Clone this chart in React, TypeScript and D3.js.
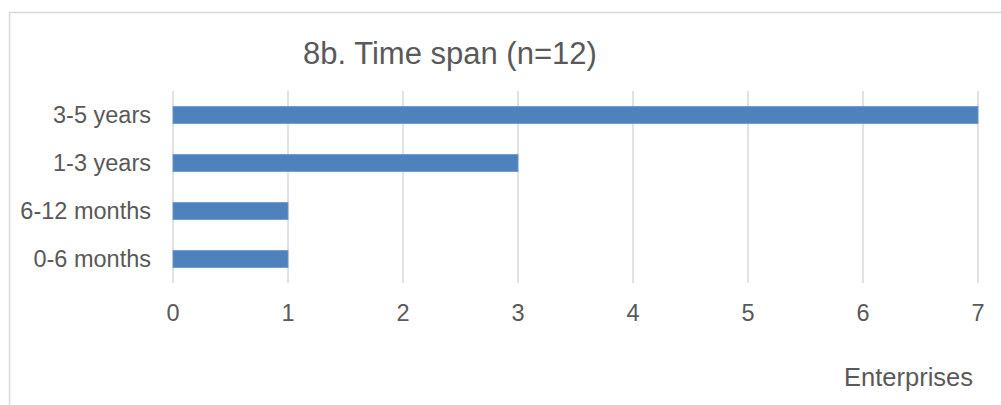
import React from "react";
import * as d3 from "d3";

// Time span of enterprises, horizontal bar chart
const categories = ["3-5 years", "1-3 years", "6-12 months", "0-6 months"];
const values = [7, 3, 1, 1];
const xTicks = [0, 1, 2, 3, 4, 5, 6, 7];
const title = "8b. Time span (n=12)";
const xAxisTitle = "Enterprises";

const W = 1001;
const H = 405;
const plot = { left: 173, right: 978, top: 91, bottom: 283 };
const textColor = "#595959";
const font = "Arial, 'Liberation Sans', sans-serif";

export default function App() {
  const x = d3.scaleLinear().domain([0, 7]).range([plot.left, plot.right]);
  const y = d3
    .scaleBand<string>()
    .domain(categories)
    .range([plot.top, plot.bottom])
    .paddingInner(0.64)
    .paddingOuter(0.32);

  return (
    <svg
      width={W}
      height={H}
      style={{ position: "absolute", left: 0, top: 0, background: "#fff" }}
      fontFamily={font}
    >
      <rect x={9.5} y={12.5} width={1200} height={600} fill="#fff" stroke="#D9D9D9" strokeWidth={1.5} />
      <text x={303} y={64} fontSize={31} fill={textColor}>
        {title}
      </text>
      {xTicks.map((t) => (
        <line
          key={"g" + t}
          x1={x(t)}
          x2={x(t)}
          y1={plot.top}
          y2={plot.bottom}
          stroke="#D9D9D9"
          strokeWidth={1.5}
        />
      ))}
      {categories.map((c, i) => (
        <rect
          key={c}
          x={x(0)}
          y={y(c)!}
          width={x(values[i]) - x(0)}
          height={y.bandwidth()}
          fill="#4F81BD"
          stroke="#6F98CB"
          strokeWidth={0.8}
        />
      ))}
      {categories.map((c) => (
        <text
          key={"l" + c}
          x={151}
          y={y(c)! + y.bandwidth() / 2}
          dy="0.35em"
          textAnchor="end"
          fontSize={23.5}
          fill={textColor}
        >
          {c}
        </text>
      ))}
      {xTicks.map((t) => (
        <text key={"t" + t} x={x(t)} y={321} textAnchor="middle" fontSize={23.5} fill={textColor}>
          {t}
        </text>
      ))}
      <text x={973} y={386} textAnchor="end" fontSize={25.5} fill={textColor}>
        {xAxisTitle}
      </text>
    </svg>
  );
}
